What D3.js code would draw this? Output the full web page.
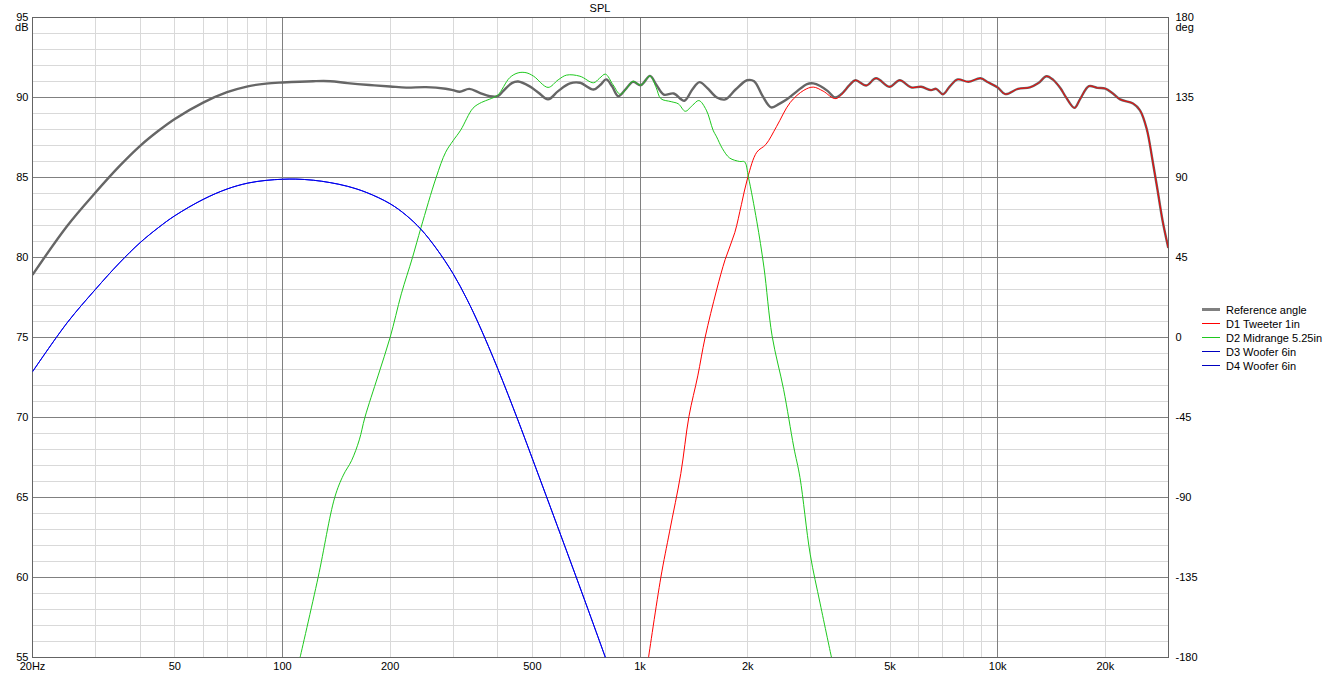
<!DOCTYPE html>
<html>
<head>
<meta charset="utf-8">
<script src="https://cdn.jsdelivr.net/npm/d3@7/dist/d3.min.js"></script>
<style>
  html, body { margin: 0; padding: 0; background: #fff; }
  svg { display: block; }
  text { font-family: "Liberation Sans", Arial, sans-serif; font-size: 11px; fill: #000; }
</style>
</head>
<body>
<svg id="chart" width="1327" height="675"></svg>
<script>
// ---------- DATA ----------
const xTickValues = [20, 50, 100, 200, 500, 1000, 2000, 5000, 10000, 20000];
const xTickLabels = ["20Hz", "50", "100", "200", "500", "1k", "2k", "5k", "10k", "20k"];
const yTickValues = [95, 90, 85, 80, 75, 70, 65, 60, 55];
const yRightLabels = ["180", "135", "90", "45", "0", "-45", "-90", "-135", "-180"];

const refFreq = [20, 25, 30, 35, 40, 45, 50, 60, 70, 80, 90, 100, 122, 136, 152, 175, 200, 222, 252, 286, 300, 313, 333, 356, 380, 400, 414, 438, 456, 490, 520, 553, 590, 637, 679, 741, 775, 804, 835, 869, 910, 955, 1005, 1066, 1110, 1165, 1242, 1330, 1400, 1466, 1540, 1640, 1730, 1850, 1992, 2084, 2200, 2327, 2450, 2580, 2750, 2930, 3050, 3190, 3350, 3510, 3650, 3850, 4000, 4290, 4570, 4990, 5320, 5730, 6110, 6510, 6730, 7030, 7350, 7730, 8280, 8950, 9400, 10000, 10500, 11400, 12300, 13000, 13700, 14300, 15000, 15500, 16400, 17000, 18000, 19000, 20000, 21000, 22000, 23900, 25000, 26100, 27100, 28000, 28900, 30000];
const refSpl = [78.91, 81.97, 84.06, 85.71, 86.98, 87.92, 88.66, 89.68, 90.33, 90.7, 90.87, 90.94, 91.02, 91.02, 90.9, 90.78, 90.69, 90.62, 90.65, 90.55, 90.46, 90.36, 90.54, 90.29, 90.08, 90.08, 90.4, 90.9, 91.0, 90.71, 90.3, 89.88, 90.4, 90.88, 90.92, 90.5, 90.8, 91.13, 90.7, 90.08, 90.5, 90.98, 90.77, 91.35, 90.8, 90.18, 90.25, 89.8, 90.5, 90.96, 90.6, 90.0, 89.88, 90.5, 91.08, 91.02, 90.1, 89.38, 89.6, 89.9, 90.4, 90.84, 90.88, 90.72, 90.4, 90.0, 90.2, 90.77, 91.08, 90.75, 91.2, 90.67, 91.08, 90.63, 90.67, 90.46, 90.54, 90.2, 90.7, 91.13, 90.98, 91.2, 90.95, 90.63, 90.21, 90.54, 90.63, 90.9, 91.33, 91.1, 90.56, 90.04, 89.35, 89.9, 90.71, 90.6, 90.56, 90.25, 89.88, 89.63, 89.2, 88.05, 86.08, 84.2, 82.33, 80.6];

const tweeterFreq = [1056, 1143, 1210, 1300, 1370, 1450, 1520, 1637, 1730, 1840, 1920, 2000, 2120, 2247, 2410, 2630, 2870, 3050, 3250, 3530, 3850, 4000, 4290, 4570, 4990, 5320, 5730, 6110, 6510, 6730, 7030, 7350, 7730, 8280, 8950, 9400, 10000, 10500, 11400, 12300, 13000, 13700, 14300, 15000, 15500, 16400, 17000, 18000, 19000, 20000, 21000, 22000, 23900, 25000, 26100, 27100, 28000, 28900, 30000];
const tweeterSpl = [55.0, 60.0, 62.9, 66.5, 70.07, 72.6, 75.0, 77.97, 79.88, 81.55, 83.3, 85.0, 86.58, 87.06, 88.2, 89.69, 90.45, 90.65, 90.4, 89.93, 90.77, 91.08, 90.75, 91.2, 90.67, 91.08, 90.63, 90.67, 90.46, 90.54, 90.2, 90.7, 91.13, 90.98, 91.2, 90.95, 90.63, 90.21, 90.54, 90.63, 90.9, 91.33, 91.1, 90.56, 90.04, 89.35, 89.9, 90.71, 90.6, 90.56, 90.25, 89.88, 89.63, 89.2, 88.05, 86.08, 84.2, 82.33, 80.6];

const midFreq = [112, 125.8, 140, 148, 156, 164, 170, 185, 200, 215, 231, 244, 269, 286, 300, 315, 341, 360, 380, 400, 432, 456, 480, 504, 553, 590, 623, 679, 741, 770, 800, 840, 880, 920, 955, 1005, 1066, 1110, 1143, 1222, 1280, 1338, 1400, 1460, 1532, 1600, 1637, 1700, 1780, 1900, 1960, 2010, 2120, 2220, 2340, 2520, 2690, 2800, 2990, 3190, 3430];
const midSpl = [55.0, 60.0, 65.0, 66.4, 67.3, 68.6, 70.0, 72.6, 75.0, 77.73, 80.0, 81.87, 85.0, 86.58, 87.3, 87.96, 89.33, 89.69, 89.9, 90.15, 91.24, 91.54, 91.55, 91.33, 90.63, 91.1, 91.4, 91.33, 90.92, 91.2, 91.46, 90.8, 90.2, 90.6, 91.02, 90.77, 91.35, 90.6, 89.93, 89.74, 89.6, 89.14, 89.5, 89.81, 89.21, 87.96, 87.54, 86.8, 86.22, 86.0, 85.98, 85.0, 82.27, 79.4, 75.1, 71.75, 68.16, 66.25, 61.46, 58.35, 55.0];

const wooferFreq = [20, 25, 30, 35, 40, 45, 50, 60, 70, 80, 90, 100, 109, 122, 136, 152, 172, 200, 222, 244, 269, 300, 328, 356, 400, 455, 500, 600, 700, 800];
const wooferSpl = [72.86, 75.92, 78.01, 79.66, 80.93, 81.87, 82.61, 83.63, 84.28, 84.65, 84.82, 84.89, 84.9, 84.83, 84.68, 84.45, 84.06, 83.36, 82.63, 81.76, 80.58, 78.99, 77.39, 75.71, 73.05, 69.86, 67.42, 62.65, 58.58, 55.0];

const seriesNames = ["Reference angle", "D1 Tweeter 1in", "D2 Midrange 5.25in", "D3 Woofer 6in", "D4 Woofer 6in"];

// ---------- CHART ----------
const svg = d3.select("#chart");
const L = 32.5, R = 1168.3, T = 17.5, B = 657.5;
const x = d3.scaleLog().domain([20, 30000]).range([L, R]);
const y = d3.scaleLinear().domain([55, 95]).range([B, T]);
const crisp = v => Math.floor(v) + 0.5;

// grid
const g = svg.append("g");
const minorX = [];
[10, 100, 1000, 10000].forEach(dec => { for (let k = 1; k <= 9; k++) { const f = dec * k; if (f > 20 && f < 30000) minorX.push(f); } });
minorX.filter(f => ![100, 1000, 10000].includes(f)).forEach(f => {
  g.append("line").attr("x1", crisp(x(f))).attr("x2", crisp(x(f))).attr("y1", T).attr("y2", B)
    .attr("stroke", "#d9d9d9").attr("stroke-width", 1);
});
d3.range(56, 95).filter(v => v % 5 !== 0).forEach(v => {
  g.append("line").attr("x1", L).attr("x2", R).attr("y1", crisp(y(v))).attr("y2", crisp(y(v)))
    .attr("stroke", "#d9d9d9").attr("stroke-width", 1);
});
[100, 1000, 10000].forEach(f => {
  g.append("line").attr("x1", crisp(x(f))).attr("x2", crisp(x(f))).attr("y1", T).attr("y2", B)
    .attr("stroke", "#808080").attr("stroke-width", 1);
});
[60, 65, 70, 75, 80, 85, 90].forEach(v => {
  g.append("line").attr("x1", L).attr("x2", R).attr("y1", crisp(y(v))).attr("y2", crisp(y(v)))
    .attr("stroke", "#808080").attr("stroke-width", 1);
});
// frame
g.append("rect").attr("x", L).attr("y", T).attr("width", crisp(R) - L).attr("height", B - T)
  .attr("fill", "none").attr("stroke", "#646464").attr("stroke-width", 1);

// axis labels
const xAxis = svg.append("g");
xTickValues.forEach((f, i) => {
  xAxis.append("text").attr("x", x(f)).attr("y", 670).attr("text-anchor", "middle").text(xTickLabels[i]);
});
const yAxisL = svg.append("g");
yTickValues.forEach(v => {
  yAxisL.append("text").attr("x", 28.5).attr("y", y(v) + 3).attr("text-anchor", "end").text(v);
});
yAxisL.append("text").attr("x", 28.5).attr("y", y(95) + 13).attr("text-anchor", "end").text("dB");
const yAxisR = svg.append("g");
yTickValues.forEach((v, i) => {
  yAxisR.append("text").attr("x", 1175.5).attr("y", y(v) + 3).attr("text-anchor", "start").text(yRightLabels[i]);
});
yAxisR.append("text").attr("x", 1175.5).attr("y", y(95) + 13).attr("text-anchor", "start").text("deg");
svg.append("text").attr("x", 600).attr("y", 12).attr("text-anchor", "middle").text("SPL");

// clip
svg.append("defs").append("clipPath").attr("id", "plotClip")
  .append("rect").attr("x", L).attr("y", T).attr("width", R - L).attr("height", B - T);

const line = d3.line().x(d => x(d[0])).y(d => y(d[1])).curve(d3.curveCatmullRom.alpha(0.5));
const zip = (a, b) => a.map((f, i) => [f, b[i]]);
const plot = svg.append("g").attr("clip-path", "url(#plotClip)");

const series = [
  { name: seriesNames[0], data: zip(refFreq, refSpl), color: "#666666", width: 2.4 },
  { name: seriesNames[1], data: zip(tweeterFreq, tweeterSpl), color: "#ff0000", width: 1 },
  { name: seriesNames[2], data: zip(midFreq, midSpl), color: "#1ec81e", width: 1 },
  { name: seriesNames[3], data: zip(wooferFreq, wooferSpl), color: "#0000ff", width: 1 },
  { name: seriesNames[4], data: zip(wooferFreq, wooferSpl), color: "#0000e6", width: 1 }
];
series.forEach(s => {
  plot.append("path").attr("d", line(s.data)).attr("fill", "none")
    .attr("stroke", s.color).attr("stroke-width", s.width).attr("stroke-linejoin", "round");
});

// legend
const lg = svg.append("g");
series.forEach((s, i) => {
  const ly = 309.5 + i * 14;
  lg.append("line").attr("x1", 1202).attr("x2", 1220).attr("y1", ly).attr("y2", ly)
    .attr("stroke", i === 0 ? "#808080" : (i >= 3 ? "#0000c0" : s.color)).attr("stroke-width", i === 0 ? 3 : 1);
  lg.append("text").attr("x", 1226).attr("y", ly + 4).text(s.name);
});
</script>
</body>
</html>
